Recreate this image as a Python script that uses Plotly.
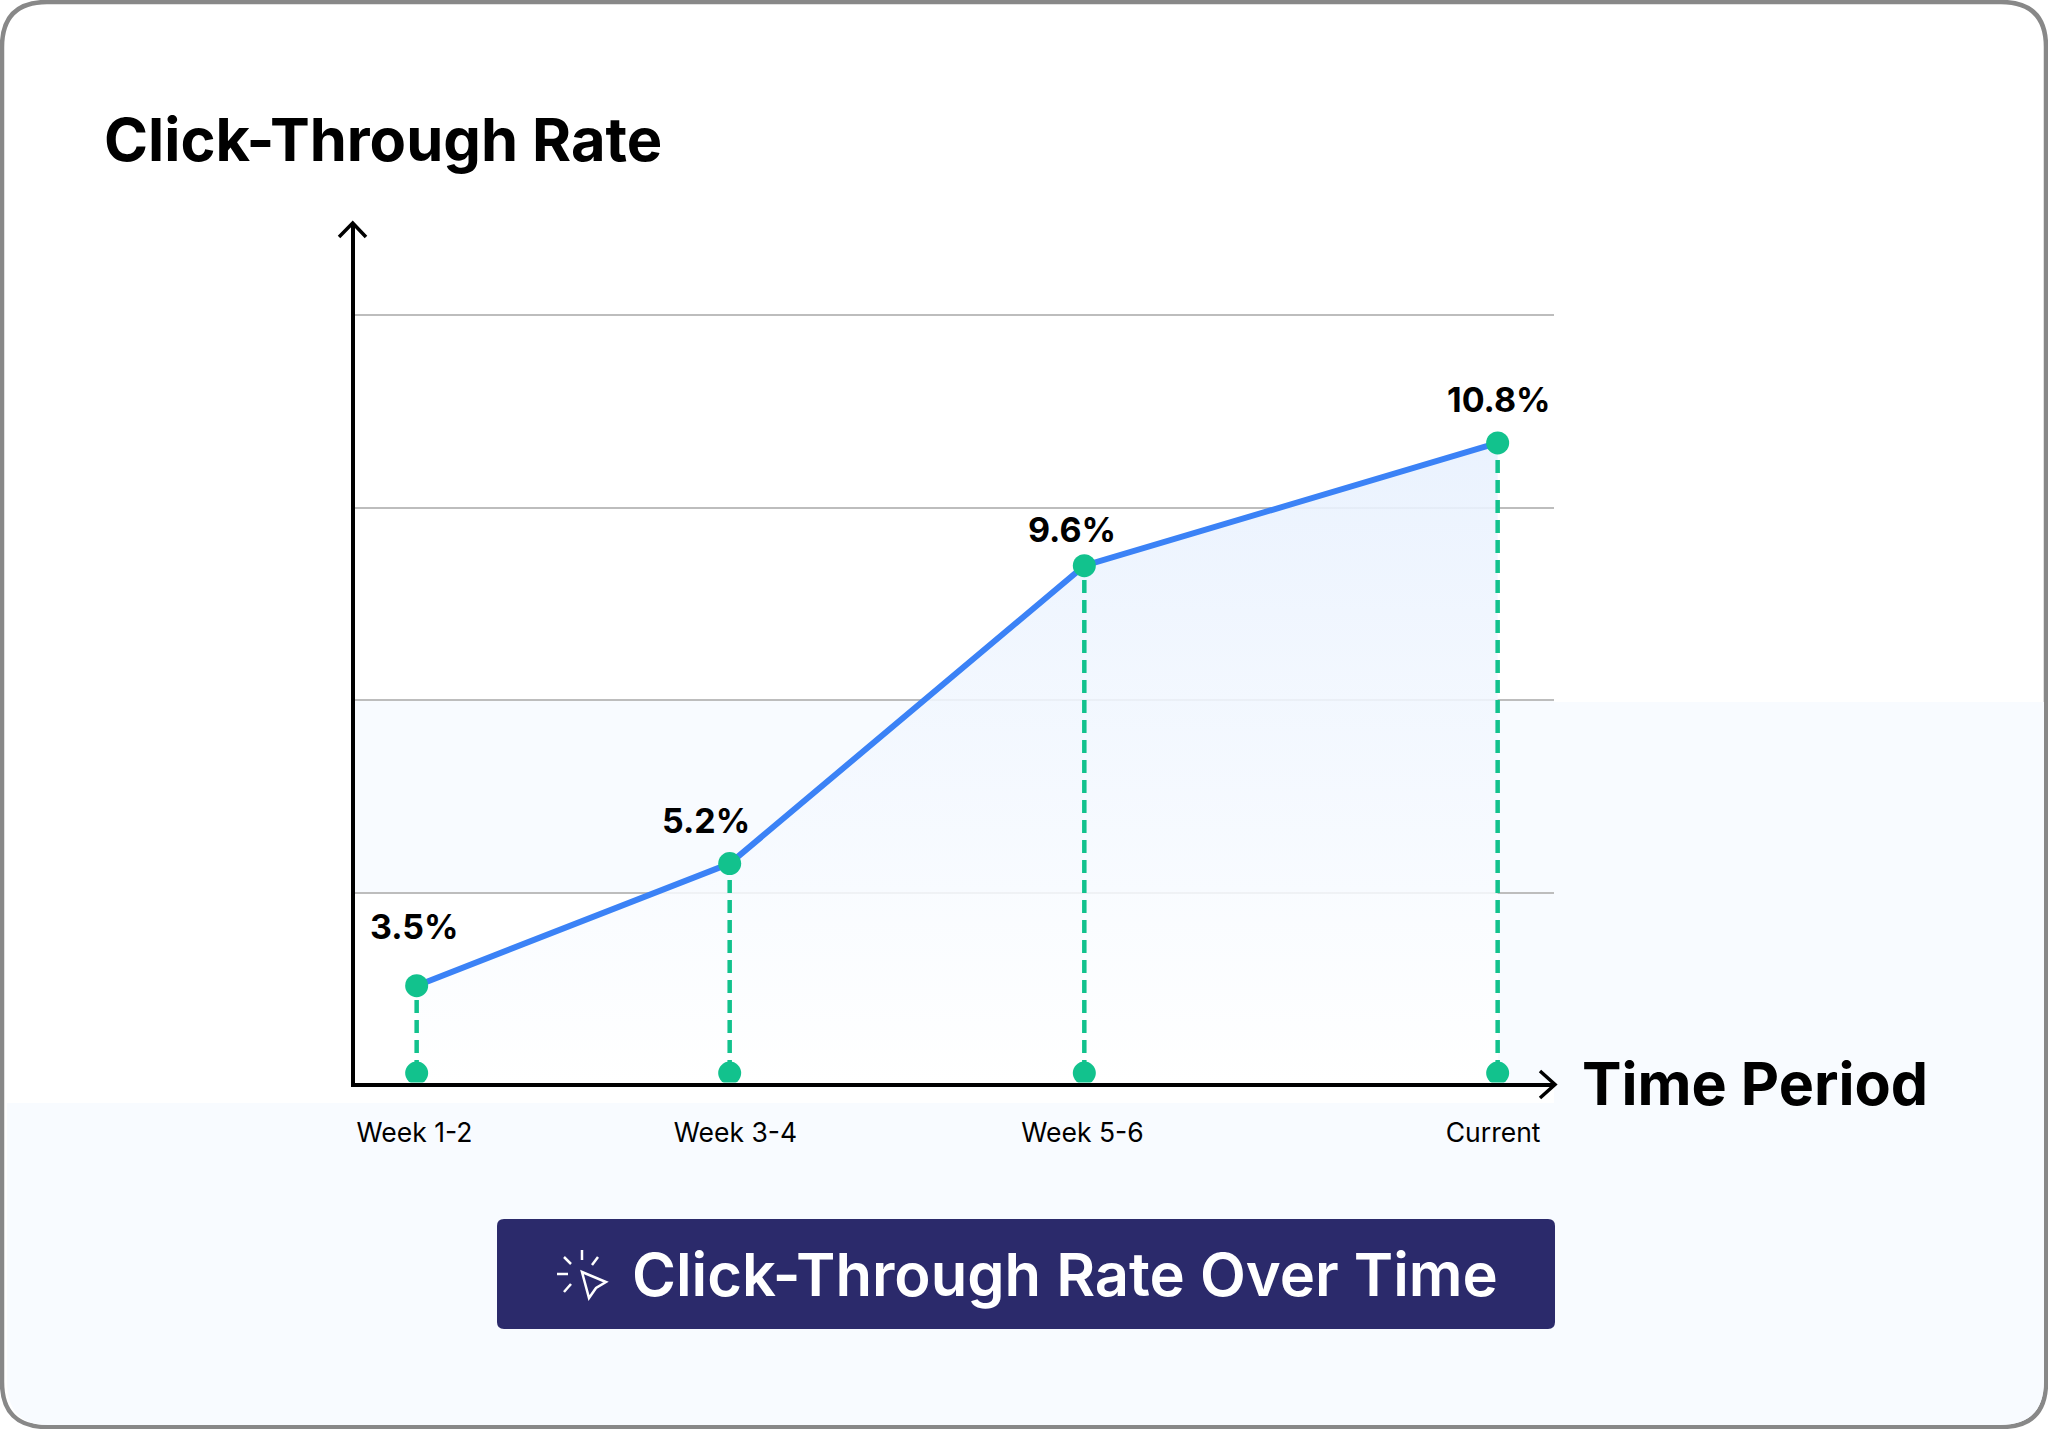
import plotly.graph_objects as go

W = 2048
H = 1429

# data
periods = ["Week 1-2", "Week 3-4", "Week 5-6", "Current"]
ctr_values = [3.5, 5.2, 9.6, 10.8]
# the drawn line is not to scale with its labels, so heights are read in grid steps
period_x = [1.5, 3.5, 5.766, 8.407]
line_height = [0.516, 1.151, 2.699, 3.337]
stem_base = [0.062, 0.062, 0.062, 0.062]
tick_x = [1.486, 3.537, 5.754, 8.378]
grid_steps = [1, 2, 3, 4]

FONT = "Inter"
GREEN = "#12C28D"
BLUE = "#3B82F6"
TINT = "#F8FBFF"
NAVY = "#2B2A6B"


def px(x):
    return x / W


def py(y):
    return 1 - y / H


def pt(x, y):
    return f"{px(x):.5f},{py(y):.5f}"


def rounded_path(x0, y0, x1, y1, r):
    return (
        f"M {pt(x0 + r, y0)} L {pt(x1 - r, y0)} Q {pt(x1, y0)} {pt(x1, y0 + r)} "
        f"L {pt(x1, y1 - r)} Q {pt(x1, y1)} {pt(x1 - r, y1)} "
        f"L {pt(x0 + r, y1)} Q {pt(x0, y1)} {pt(x0, y1 - r)} "
        f"L {pt(x0, y0 + r)} Q {pt(x0, y0)} {pt(x0 + r, y0)} Z"
    )


def stroke(points, color="black", width=3.5, close=False):
    path = "M " + " L ".join(pt(x, y) for x, y in points) + (" Z" if close else "")
    return dict(type="path", xref="paper", yref="paper", path=path, layer="above",
                line=dict(color=color, width=width))


fig = go.Figure()

fig.add_trace(go.Scatter(
    x=period_x,
    y=line_height,
    mode="lines",
    fill="tozeroy",
    fillgradient=dict(type="vertical", colorscale=[[0, "rgba(255,255,255,0.9)"], [0.3, "rgba(248,251,255,0.85)"], [1, "rgba(232,241,254,0.9)"]]),
    line=dict(color=BLUE, width=6),
    showlegend=False,
))

for x, base, top in zip(period_x, stem_base, line_height):
    fig.add_trace(go.Scatter(
        x=[x, x],
        y=[base, top],
        mode="lines",
        line=dict(color=GREEN, width=4.5, dash="13px,7px"),
        showlegend=False,
    ))

fig.add_trace(go.Scatter(
    x=period_x + period_x,
    y=line_height + stem_base,
    mode="markers",
    marker=dict(color=GREEN, size=23),
    showlegend=False,
))

shapes = [
    # card and the pale bands behind the chart
    dict(type="path", xref="paper", yref="paper", layer="below",
         path=rounded_path(2, 2, W - 2, H - 2, 45),
         fillcolor="white", line=dict(color="#888888", width=4.5)),
    dict(type="path", xref="paper", yref="paper", layer="below", fillcolor=TINT, line=dict(width=0),
         path=(f"M {pt(7, 1103)} L {pt(1554, 1103)} L {pt(1554, 702)} L {pt(W - 4, 702)} "
               f"L {pt(W - 4, H - 48)} Q {pt(W - 4, H - 4)} {pt(W - 48, H - 4)} "
               f"L {pt(48, H - 4)} Q {pt(7, H - 4)} {pt(7, H - 48)} Z")),
    dict(type="rect", xref="paper", yref="paper", layer="below", fillcolor=TINT, line=dict(width=0),
         x0=px(355), x1=px(1554), y0=py(893), y1=py(700)),
    dict(type="rect", xref="paper", yref="paper", layer="below", fillcolor=TINT, line=dict(width=0),
         x0=px(1498), x1=px(1554), y0=py(1084), y1=py(893)),
    # axis arrow heads
    stroke([(339, 237), (352.7, 223), (366, 237)], width=3.5),
    stroke([(1540, 1071), (1555, 1084.5), (1540, 1098)], width=3.5),
    # button
    dict(type="path", xref="paper", yref="paper", layer="below", fillcolor=NAVY, line=dict(width=0),
         path=rounded_path(497, 1219, 1555, 1329, 7)),
    # cursor icon
    stroke([(582, 1272), (606, 1282), (596, 1288), (589, 1298)], color="white", width=2.5, close=True),
    stroke([(582, 1250), (582, 1260)], color="white", width=2.5),
    stroke([(564, 1257), (571, 1264)], color="white", width=2.5),
    stroke([(598, 1257), (592, 1265)], color="white", width=2.5),
    stroke([(557, 1274), (568, 1274)], color="white", width=2.5),
    stroke([(571, 1284), (564, 1292)], color="white", width=2.5),
]

annotations = [
    dict(text="Click-Through Rate", xref="paper", yref="paper", x=px(102), y=py(139),
         xanchor="left", yanchor="middle", showarrow=False,
         font=dict(family=FONT, size=59.6, color="black", weight=700)),
    dict(text="Time Period", xref="paper", yref="paper", x=px(1580), y=py(1083),
         xanchor="left", yanchor="middle", showarrow=False,
         font=dict(family=FONT, size=59.2, color="black", weight=700)),
    dict(text="Click-Through Rate Over Time", xref="paper", yref="paper", x=px(629.5), y=py(1274),
         xanchor="left", yanchor="middle", showarrow=False,
         font=dict(family=FONT, size=59.7, color="white", weight=600)),
]

# offsets of the value labels from their points, in pixels
label_xshift = [-2, -24, -12, 1]
label_yshift = [59, 43, 36, 43]
for x, top, value, dx, dy in zip(period_x, line_height, ctr_values, label_xshift, label_yshift):
    annotations.append(dict(
        text=f"{value}%", x=x, y=top, xshift=dx, yshift=dy,
        xanchor="center", yanchor="middle", showarrow=False,
        font=dict(family=FONT, size=34, color="black", weight=700),
    ))

fig.update_layout(
    width=W,
    height=H,
    margin=dict(l=0, r=0, t=0, b=0),
    paper_bgcolor="white",
    plot_bgcolor="rgba(0,0,0,0)",
    showlegend=False,
    shapes=shapes,
    annotations=annotations,
    font=dict(family=FONT),
)
fig.update_xaxes(
    domain=[px(355), px(1554)],
    range=[1.106, 8.767],
    tickvals=tick_x,
    ticktext=periods,
    tickfont=dict(family=FONT, size=26.5, color="black"),
    ticks="outside",
    ticklen=24,
    tickcolor="rgba(0,0,0,0)",
    showgrid=False,
    zeroline=False,
    showline=True,
    linecolor="black",
    linewidth=3.5,
)
fig.update_yaxes(
    domain=[py(1082.5), py(223)],
    range=[0.013, 4.48],
    tickvals=grid_steps,
    showticklabels=False,
    showgrid=True,
    gridcolor="#BDBDBD",
    gridwidth=1.5,
    zeroline=False,
    showline=True,
    linecolor="black",
    linewidth=3.5,
)

fig.write_html("out.html", config=dict(displayModeBar=False), post_script="document.body.style.margin='0';")
